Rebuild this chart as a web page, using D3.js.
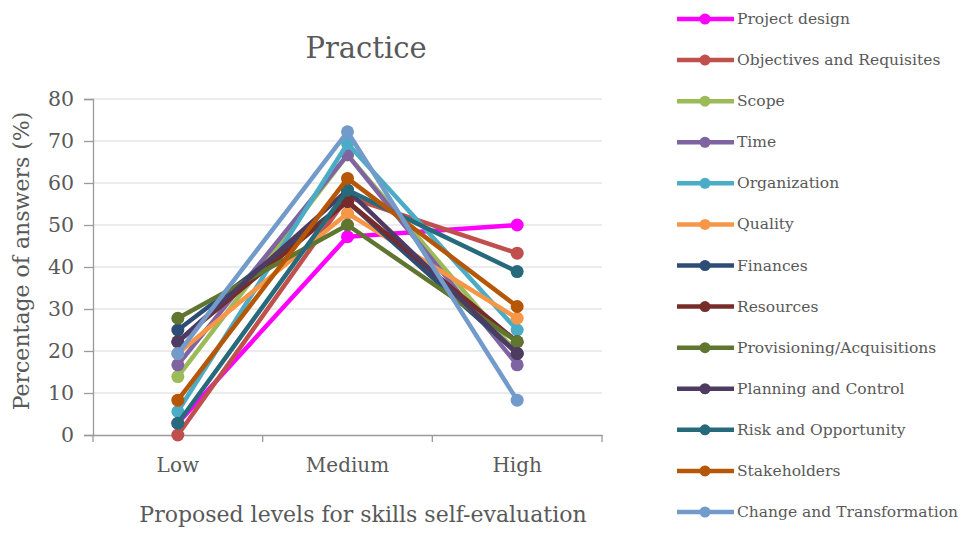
<!DOCTYPE html>
<html>
<head>
<meta charset="utf-8">
<script src="https://cdn.jsdelivr.net/npm/d3@7"></script>
<style>
  html, body { margin: 0; padding: 0; background: #fff; }
  svg { display: block; }
  text { font-family: "DejaVu Serif", "Liberation Serif", serif; fill: #595959; }
</style>
</head>
<body>
<svg id="chart" width="960" height="535"></svg>
<script>
// Self-evaluation levels (x categories)
const levels = ["Low", "Medium", "High"];

// Skill areas, in legend order
const skills = [
  "Project design",
  "Objectives and Requisites",
  "Scope",
  "Time",
  "Organization",
  "Quality",
  "Finances",
  "Resources",
  "Provisioning/Acquisitions",
  "Planning and Control",
  "Risk and Opportunity",
  "Stakeholders",
  "Change and Transformation"
];

// Percentage of answers per level (Low, Medium, High) for each skill
const projectDesign   = [2.8, 47.2, 50.0];
const objectives      = [0.0, 56.7, 43.3];
const scope           = [13.9, 66.7, 19.4];
const time            = [16.7, 66.7, 16.7];
const organization    = [5.6, 69.4, 25.0];
const quality         = [19.4, 52.8, 27.8];
const finances        = [25.0, 55.6, 19.4];
const resources       = [22.2, 55.6, 22.2];
const provisioning    = [27.8, 50.0, 22.2];
const planning        = [22.2, 58.3, 19.4];
const risk            = [2.8, 58.3, 38.9];
const stakeholders    = [8.3, 61.1, 30.6];
const change          = [19.4, 72.2, 8.3];

const seriesValues = [projectDesign, objectives, scope, time, organization, quality,
  finances, resources, provisioning, planning, risk, stakeholders, change];

const colors = ["#FF00FF", "#C0504D", "#9BBB59", "#8064A2", "#4BACC6", "#F79646",
  "#2C4D75", "#772C2A", "#5F7530", "#4D3B62", "#276A7C", "#B65708", "#729ACA"];

const yTicks = [0, 10, 20, 30, 40, 50, 60, 70, 80];

const series = skills.map((name, i) => ({ name, color: colors[i], values: seriesValues[i] }));

const svg = d3.select("#chart");
const plot = { left: 93, right: 602, top: 99, bottom: 435 };

const x = d3.scaleBand().domain(levels).range([plot.left, plot.right]);
const y = d3.scaleLinear().domain([0, 80]).range([plot.bottom, plot.top]);
const cx = d => x(d) + x.bandwidth() / 2;

// Title
svg.append("text")
  .attr("x", 366).attr("y", 58)
  .attr("text-anchor", "middle")
  .style("font-size", "29px")
  .text("Practice");

// Horizontal gridlines
svg.append("g")
  .selectAll("line")
  .data(yTicks.filter(t => t > 0))
  .join("line")
  .attr("x1", plot.left).attr("x2", plot.right)
  .attr("y1", d => y(d)).attr("y2", d => y(d))
  .attr("stroke", "#d9d9d9").attr("stroke-width", 1.2);

// Y axis
const yAxis = svg.append("g")
  .attr("transform", `translate(${plot.left},0)`)
  .call(d3.axisLeft(y).tickValues(yTicks).tickSize(9).tickPadding(10));
yAxis.select(".domain").attr("stroke", "#9a9a9a").attr("stroke-width", 1.3);
yAxis.selectAll(".tick line").attr("stroke", "#9a9a9a").attr("stroke-width", 1.3);
yAxis.selectAll(".tick text")
  .style("font-family", '"DejaVu Serif", serif')
  .style("font-size", "20.5px").attr("fill", "#595959");

// X axis
const xAxis = svg.append("g")
  .attr("transform", `translate(0,${plot.bottom})`)
  .call(d3.axisBottom(x).tickSize(0).tickPadding(23));
xAxis.select(".domain").attr("stroke", "#9a9a9a").attr("stroke-width", 1.3);
xAxis.selectAll(".tick text")
  .style("font-family", '"DejaVu Serif", serif')
  .style("font-size", "20px").attr("fill", "#595959");
// Category boundary ticks
svg.append("g")
  .selectAll("line")
  .data(levels.map(l => x(l)).concat([plot.right]))
  .join("line")
  .attr("x1", d => d).attr("x2", d => d)
  .attr("y1", plot.bottom).attr("y2", plot.bottom + 7)
  .attr("stroke", "#9a9a9a").attr("stroke-width", 1.3);

// Axis titles
svg.append("text")
  .attr("transform", `translate(29,${(plot.top + plot.bottom) / 2 - 6}) rotate(-90)`)
  .attr("text-anchor", "middle")
  .style("font-size", "22px")
  .text("Percentage of answers (%)");

svg.append("text")
  .attr("x", 363).attr("y", 522)
  .attr("text-anchor", "middle")
  .style("font-size", "22px")
  .text("Proposed levels for skills self-evaluation");

// Lines and markers
const line = d3.line().x((d, i) => cx(levels[i])).y(d => y(d));
const g = svg.append("g");
series.forEach(s => {
  const sg = g.append("g");
  sg.append("path")
    .datum(s.values)
    .attr("d", line)
    .attr("fill", "none")
    .attr("stroke", s.color)
    .attr("stroke-width", 4.5)
    .attr("stroke-linejoin", "round");
  sg.selectAll("circle")
    .data(s.values)
    .join("circle")
    .attr("cx", (d, i) => cx(levels[i]))
    .attr("cy", d => y(d))
    .attr("r", 6.5)
    .attr("fill", s.color);
});

// Legend
const legend = svg.append("g");
const rowY = d3.scalePoint().domain(skills).range([19, 512]);
series.forEach(s => {
  const ly = rowY(s.name);
  const lg = legend.append("g");
  lg.append("line")
    .attr("x1", 677).attr("x2", 734)
    .attr("y1", ly).attr("y2", ly)
    .attr("stroke", s.color).attr("stroke-width", 4.5);
  lg.append("circle")
    .attr("cx", 705).attr("cy", ly).attr("r", 5.5)
    .attr("fill", s.color);
  lg.append("text")
    .attr("x", 737).attr("y", ly + 5)
    .style("font-size", "15.5px")
    .text(s.name);
});
</script>
</body>
</html>
